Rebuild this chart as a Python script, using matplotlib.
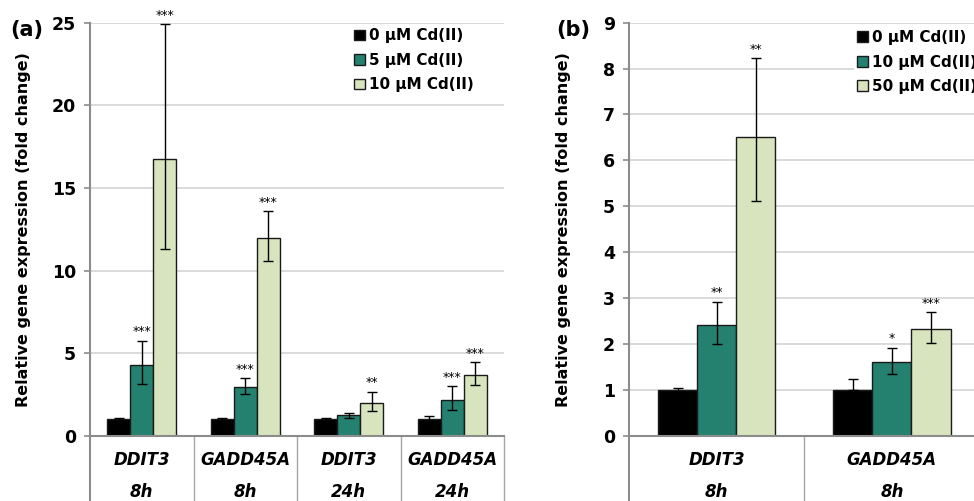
import matplotlib.pyplot as plt
import numpy as np

# panel (a) data
genes_a = ['DDIT3', 'GADD45A', 'DDIT3', 'GADD45A']
times_a = ['8h', '8h', '24h', '24h']
labels_a = ['0 μM Cd(II)', '5 μM Cd(II)', '10 μM Cd(II)']
vals_a = [[1.0, 1.0, 1.0, 1.0],
          [4.25, 2.93, 1.23, 2.16],
          [16.75, 11.99, 2.0, 3.69]]
err_lo_a = [[0.08, 0.08, 0.08, 0.08],
            [1.15, 0.43, 0.16, 0.60],
            [5.47, 1.42, 0.50, 0.62]]
err_hi_a = [[0.08, 0.08, 0.08, 0.17],
            [1.50, 0.56, 0.17, 0.84],
            [8.17, 1.61, 0.66, 0.75]]
stars_a = [['', '', '', ''],
           ['***', '***', '', '***'],
           ['***', '***', '**', '***']]

# panel (b) data
genes_b = ['DDIT3', 'GADD45A']
times_b = ['8h', '8h']
labels_b = ['0 μM Cd(II)', '10 μM Cd(II)', '50 μM Cd(II)']
vals_b = [[1.0, 1.0],
          [2.42, 1.60],
          [6.50, 2.33]]
err_lo_b = [[0.05, 0.0],
            [0.42, 0.26],
            [1.38, 0.32]]
err_hi_b = [[0.05, 0.23],
            [0.50, 0.32],
            [1.72, 0.36]]
stars_b = [['', ''],
           ['**', '*'],
           ['**', '***']]

colors = ['#000000', '#248170', '#D8E4BD']
grid_c = '#D4D4D4'
axis_c = '#8C8C8C'

fig = plt.figure(figsize=(9.74, 5.01), dpi=100)
ax1 = fig.add_axes([90/974, 65.3/501, 414/974, 413/501])
ax2 = fig.add_axes([629/974, 65.3/501, 350.6/974, 413/501])


def draw(ax, genes, times, labels, vals, lo, hi, stars, ymax, step, star_off, lab_x):
    n = len(genes)
    x = np.arange(n)
    w = 0.223
    for i in range(3):
        xs = x + (i - 1) * w
        ax.bar(xs, vals[i], w, color=colors[i], edgecolor='#1a1a1a',
               linewidth=1.0, label=labels[i], zorder=2)
        ax.errorbar(xs, vals[i], yerr=[lo[i], hi[i]], fmt='none',
                    ecolor='black', elinewidth=1.0, capsize=3.5,
                    capthick=1.0, zorder=3)
        for j in range(n):
            if stars[i][j]:
                ax.text(xs[j], vals[i][j] + hi[i][j] + star_off, stars[i][j],
                        ha='center', va='bottom', fontsize=9)
    ax.set_xlim(-0.5, n - 0.5)
    ax.set_ylim(0, ymax)
    ax.set_yticks(np.arange(0, ymax + 0.01, step))
    ax.yaxis.grid(True, color=grid_c, linewidth=1.2, zorder=0)
    ax.set_axisbelow(True)
    ax.set_xticks([])
    for s in ['top', 'right']:
        ax.spines[s].set_visible(False)
    ax.spines['left'].set_color(axis_c)
    ax.spines['left'].set_linewidth(1.5)
    ax.spines['bottom'].set_color(axis_c)
    ax.spines['bottom'].set_linewidth(1.5)
    ax.tick_params(axis='y', length=4, color=axis_c, width=1.2,
                   labelsize=12.5, pad=6)
    for t in ax.get_yticklabels():
        t.set_fontweight('bold')
    trans = ax.get_xaxis_transform()
    # category table below the axis
    for k in range(n + 1):
        ax.plot([k - 0.5, k - 0.5], [0, -0.3], transform=trans,
                color=axis_c if k == 0 else '#A6A6A6', lw=1.5 if k == 0 else 1.0,
                clip_on=False)
    for j in range(n):
        ax.text(j, -0.06, genes[j], transform=trans, ha='center', va='center',
                fontsize=12, fontweight='bold', style='italic')
        ax.text(j, -0.136, times[j], transform=trans, ha='center', va='center',
                fontsize=12, fontweight='bold', style='italic')
    ax.set_ylabel('Relative gene expression (fold change)', fontsize=11.5,
                  fontweight='bold')
    ax.yaxis.set_label_coords(lab_x, 0.5)


draw(ax1, genes_a, times_a, labels_a, vals_a, err_lo_a, err_hi_a, stars_a,
     25, 5, 0.15, -0.143)
draw(ax2, genes_b, times_b, labels_b, vals_b, err_lo_b, err_hi_b, stars_b,
     9, 1, 0.06, -0.166)

leg_kw = dict(loc='upper left', frameon=True, fancybox=False,
              edgecolor='none', prop={'weight': 'bold', 'size': 11},
              handlelength=0.7, handleheight=0.7, handletextpad=0.3,
              labelspacing=0.62, borderpad=0.2)
leg1 = ax1.legend(bbox_to_anchor=(0.612, 1.012), **leg_kw)
leg1.get_frame().set_alpha(1)
leg2 = ax2.legend(bbox_to_anchor=(0.62, 1.008), **leg_kw)
leg2.get_frame().set_alpha(1)

fig.text(10/974, 1 - 30/501, '(a)', fontsize=15, fontweight='bold',
         ha='left', va='center')
fig.text(556/974, 1 - 30/501, '(b)', fontsize=15, fontweight='bold',
         ha='left', va='center')

fig.savefig('out.png', dpi=100)
